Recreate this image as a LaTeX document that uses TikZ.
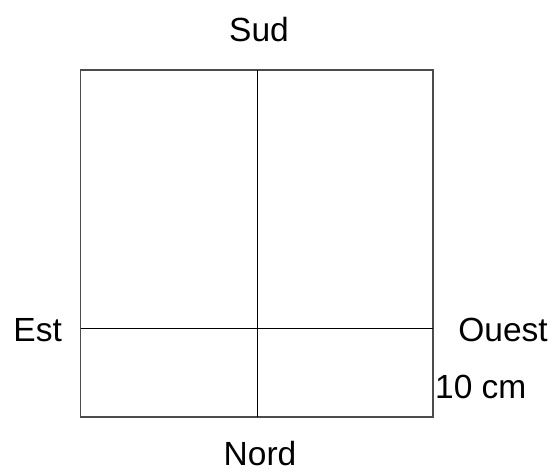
\documentclass[tikz,border=0pt]{standalone}
\usepackage{fontspec}
\setmainfont{Liberation Sans}
\begin{document}
\begin{tikzpicture}[x=1pt,y=-1pt,
  lbl/.style={inner sep=0pt,anchor=base,font=\fontsize{33.5}{40}\selectfont},
  outer/.style={draw=black!70,line width=1.2pt},
  inner/.style={draw=black,line width=1pt}]
\useasboundingbox (0,0) rectangle (557,473);
\coordinate (tl) at (80.5,70);
\coordinate (br) at (433,417);
\coordinate (vt) at (257,70);
\coordinate (vb) at (257,417);
\coordinate (hl) at (80.5,328);
\coordinate (hr) at (433,328);
\draw[outer] (tl) rectangle (br);
\draw[inner] (vt) -- (vb);
\draw[inner] (hl) -- (hr);
\node[lbl] (sud) at (259,41.5) {Sud};
\node[lbl] (nord) at (260,465.5) {Nord};
\node[lbl] (est) at (37.7,341.7) {Est};
\node[lbl] (ouest) at (503,341.5) {Ouest};
\node[lbl,anchor=base west] (dim) at (435,398) {10 cm};
\end{tikzpicture}
\end{document}
